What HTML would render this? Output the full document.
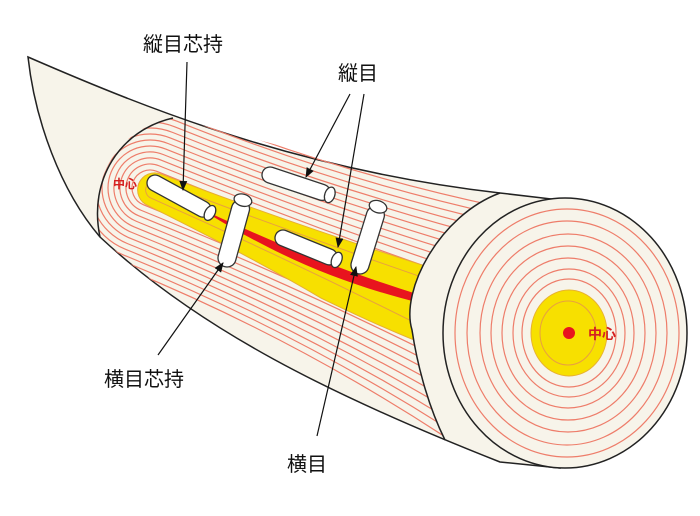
<!DOCTYPE html>
<html><head><meta charset="utf-8"><style>
html,body{margin:0;padding:0;background:#fff;width:700px;height:516px;overflow:hidden}
</style></head><body>
<svg width="700" height="516" viewBox="0 0 700 516" xmlns="http://www.w3.org/2000/svg">
<defs>
<marker id="ah" markerWidth="10" markerHeight="8" refX="9" refY="4" orient="auto" markerUnits="userSpaceOnUse">
<path d="M0,0 L10,4 L0,8 Z" fill="#111"/></marker>
<clipPath id="plane"><path d="M173,118 C300,150 420,185 500,193 C440,215 400,290 412,330 C418,370 430,410 445,440 C330,390 200,330 100,237 C88,190 110,130 173,118 Z"/></clipPath>
</defs>
<!-- body -->
<path d="M28,57 C150,110 300,170 500,193 L560,200 L560,468 L500,462 C330,395 200,330 100,237 C60,190 35,120 28,57 Z" fill="#f7f4ea" stroke="#222" stroke-width="1.5"/>
<!-- rings on plane -->
<g clip-path="url(#plane)">
<g transform="translate(150,188) rotate(22)" fill="none" stroke="#ee7d6a" stroke-width="1.2">
<path d="M400,-10 Q200,-6 0,-6 A6 6 0 0 0 0,6 Q200,6 400,10"/>
<path d="M400,-19 Q200,-12 0,-12 A12 12 0 0 0 0,12 Q200,12 400,19"/>
<path d="M400,-28 Q200,-18 0,-18 A18 18 0 0 0 0,18 Q200,18 400,28"/>
<path d="M400,-37 Q200,-24 0,-24 A24 24 0 0 0 0,24 Q200,24 400,37"/>
<path d="M400,-46 Q200,-30 0,-30 A30 30 0 0 0 0,30 Q200,30 400,46"/>
<path d="M400,-55 Q200,-36 0,-36 A36 36 0 0 0 0,36 Q200,36 400,55"/>
<path d="M400,-64 Q200,-42 0,-42 A42 42 0 0 0 0,42 Q200,42 400,64"/>
<path d="M400,-73 Q200,-48 0,-48 A48 48 0 0 0 0,48 Q200,48 400,73"/>
<path d="M400,-82 Q200,-54 0,-54 A54 54 0 0 0 0,54 Q200,54 400,82"/>
<path d="M400,-91 Q200,-60 0,-60 A60 60 0 0 0 0,60 Q200,60 400,91"/>
<path d="M400,-100 Q200,-66 0,-66 A66 66 0 0 0 0,66 Q200,66 400,100"/>
<path d="M400,-109 Q200,-72 0,-72 A72 72 0 0 0 0,72 Q200,72 400,109"/>
<path d="M400,-118 Q200,-78 0,-78 A78 78 0 0 0 0,78 Q200,78 400,118"/>
<path d="M400,-127 Q200,-84 0,-84 A84 84 0 0 0 0,84 Q200,84 400,127"/>
</g>
<g transform="translate(150,188) rotate(22)">
<path d="M300,-32 Q150,-20 5,-17 A17 17 0 0 0 5,17 Q120,26 200,38 Q260,42 300,42 Z" fill="#f7e000" stroke="#e8b030" stroke-width="1"/>
<path d="M300,-20 Q150,-12 5,-9 A9 9 0 0 0 5,9 Q150,14 300,26" fill="none" stroke="#e8a040" stroke-width="1"/>
</g>
<path d="M212,214 C280,245 340,270 420,295 L420,303 C340,283 280,257 212,216 Z" fill="#e8141e"/>
</g>
<!-- plane outline / back arc -->
<path d="M173,118 C120,130 88,180 100,237" fill="none" stroke="#222" stroke-width="1.5"/>
<path d="M500,193 C440,215 400,290 412,330 C418,370 430,410 445,440" fill="none" stroke="#222" stroke-width="1.5"/>
<!-- end face -->
<ellipse cx="565" cy="333" rx="122" ry="135" fill="#f7f4ea" stroke="#222" stroke-width="1.5"/>
<g fill="none" stroke="#ee7d6a" stroke-width="1.2">
<ellipse cx="567" cy="333" rx="112" ry="124"/>
<ellipse cx="567" cy="333" rx="100" ry="112"/>
<ellipse cx="568" cy="333" rx="88" ry="99"/>
<ellipse cx="568" cy="333" rx="77" ry="87"/>
<ellipse cx="568" cy="333" rx="66" ry="75"/>
<ellipse cx="569" cy="333" rx="56" ry="64"/>
<ellipse cx="569" cy="333" rx="47" ry="54"/>
</g>
<ellipse cx="569" cy="333" rx="38" ry="43" fill="#f7e000" stroke="#e8b030" stroke-width="1"/>
<ellipse cx="568" cy="333" rx="28" ry="32" fill="none" stroke="#e8a040" stroke-width="1"/>
<circle cx="569" cy="333" r="6" fill="#e8141e"/>
<text x="588" y="339" font-family="Liberation Sans, Noto Sans CJK JP, sans-serif" font-size="14" font-weight="bold" fill="#d42020">中心</text>
<text x="113" y="188" font-family="Liberation Sans, Noto Sans CJK JP, sans-serif" font-size="12" font-weight="bold" fill="#d42020">中心</text>
<!-- pegs -->
<g fill="#fff" stroke="#333" stroke-width="1.3">
<g transform="translate(155,183) rotate(28.6)"><rect x="-8" y="-8" width="70.6" height="16" rx="8"/><ellipse cx="62.6" cy="0" rx="5" ry="8"/></g>
<g transform="translate(227,258) rotate(-74.6)"><rect x="-9" y="-9" width="69" height="18" rx="9"/><ellipse cx="60" cy="0" rx="6" ry="9"/></g>
<g transform="translate(270,175) rotate(18.4)"><rect x="-8" y="-8" width="71" height="16" rx="8"/><ellipse cx="63" cy="0" rx="5" ry="8"/></g>
<g transform="translate(283,238) rotate(22.2)"><rect x="-8" y="-8" width="66" height="16" rx="8"/><ellipse cx="58" cy="0" rx="5" ry="8"/></g>
<g transform="translate(360,265) rotate(-72.8)"><rect x="-9" y="-9" width="70" height="18" rx="9"/><ellipse cx="61" cy="0" rx="6" ry="9"/></g>
</g>
<!-- arrows -->
<g stroke="#111" stroke-width="1.2" fill="none" marker-end="url(#ah)">
<line x1="187" y1="62" x2="183" y2="190"/>
<line x1="350" y1="94" x2="306" y2="177"/>
<line x1="364" y1="94" x2="338" y2="247"/>
<line x1="158" y1="355" x2="223" y2="263"/>
<line x1="317" y1="436" x2="356" y2="267"/>
</g>
<g font-family="Liberation Sans, Noto Sans CJK JP, sans-serif" font-size="20" fill="#111">
<text x="143" y="51">縦目芯持</text>
<text x="338" y="80">縦目</text>
<text x="104" y="386">横目芯持</text>
<text x="287" y="471">横目</text>
</g>
</svg>
</body></html>
